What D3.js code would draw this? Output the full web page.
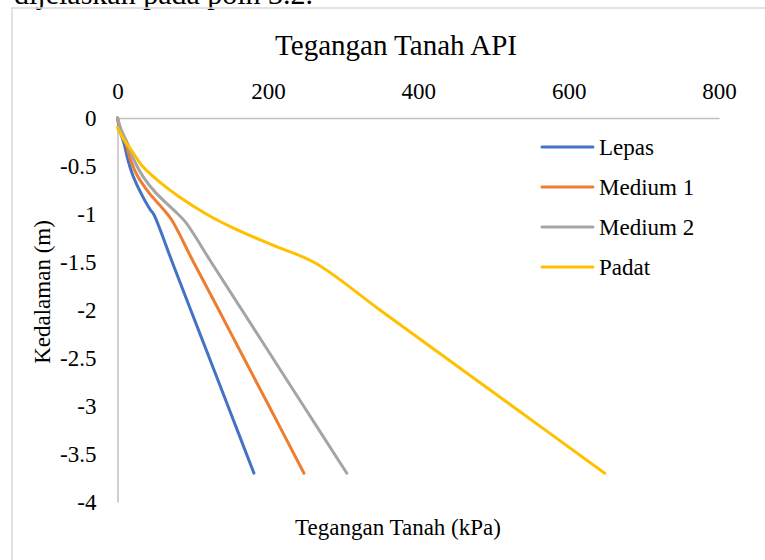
<!DOCTYPE html>
<html>
<head>
<meta charset="utf-8">
<script src="https://cdn.jsdelivr.net/npm/d3@7/dist/d3.min.js"></script>
<style>
  html, body { margin: 0; padding: 0; background: #fff; }
  svg { display: block; }
  text { font-family: "Liberation Serif", "Times New Roman", serif; fill: #000; }
</style>
</head>
<body>
<svg id="chart" width="765" height="560"></svg>
<script>
// Soil stress profiles (API) — stress in kPa against depth in m
const seriesNames = ["Lepas", "Medium 1", "Medium 2", "Padat"];
const seriesColors = ["#4472C4", "#ED7D31", "#A5A5A5", "#FFC000"];

const lepasDepth  = [0, -0.125, -0.26, -0.44, -0.61, -0.78, -0.96, -1.0, -1.5, -2.0, -2.5, -3.0, -3.7];
const lepasStress = [0, 3, 8.5, 14, 21, 31, 44, 48, 72.7, 97.4, 122.2, 146.9, 181.5];

const medium1Depth  = [0, -0.125, -0.26, -0.44, -0.61, -0.78, -0.96, -1.06, -1.5, -2.0, -2.5, -3.0, -3.7];
const medium1Stress = [0, 4, 11, 17.5, 27, 42, 62, 72, 101, 134.7, 168, 201.5, 248];

const medium2Depth  = [0, -0.125, -0.26, -0.44, -0.61, -0.78, -0.96, -1.08, -1.5, -2.0, -2.5, -3.0, -3.7];
const medium2Stress = [0, 5, 13, 22, 34, 51, 75, 90, 124.5, 165.5, 206.5, 247.5, 305];

const padatDepth  = [-0.1, -0.22, -0.33, -0.5, -0.66, -0.82, -1.0, -1.15, -1.32, -1.51, -2.0, -2.5, -3.0, -3.7];
const padatStress = [0, 8, 18, 33, 55, 82, 118, 155, 205, 263, 349, 437, 525, 648];

const xTicks = [0, 200, 400, 600, 800];
const yTicks = [0, -0.5, -1, -1.5, -2, -2.5, -3, -3.5, -4];

const chartTitle = "Tegangan Tanah API";
const xTitle = "Tegangan Tanah (kPa)";
const yTitle = "Kedalaman (m)";
const paragraphLine = "dijelaskan pada poin 3.2.";

const series = [
  { name: seriesNames[0], color: seriesColors[0], depth: lepasDepth,   stress: lepasStress },
  { name: seriesNames[1], color: seriesColors[1], depth: medium1Depth, stress: medium1Stress },
  { name: seriesNames[2], color: seriesColors[2], depth: medium2Depth, stress: medium2Stress },
  { name: seriesNames[3], color: seriesColors[3], depth: padatDepth,   stress: padatStress }
];

const svg = d3.select("#chart");

// running text of the page above the figure
svg.append("text")
  .attr("x", 14).attr("y", 4)
  .style("font-size", "30px")
  .text(paragraphLine);

// chart frame
svg.append("path")
  .attr("d", "M12,560 L12,8 L800,8")
  .attr("fill", "none")
  .attr("stroke", "#d9d9d9")
  .attr("stroke-width", 1.5);

const x = d3.scaleLinear().domain([0, 800]).range([117.5, 719]);
const y = d3.scaleLinear().domain([-4, 0]).range([502, 118]);

// top value axis
const xAxis = svg.append("g")
  .attr("transform", `translate(0,${y(0)})`)
  .call(d3.axisTop(x).tickValues(xTicks).tickSize(0).tickSizeOuter(0).tickPadding(19).tickFormat(d => String(d)));
xAxis.attr("font-family", null);
xAxis.select(".domain").attr("stroke", "#bfbfbf").attr("stroke-width", 1.5);
xAxis.selectAll("text").style("font-size", "23px").attr("fill", "#000");

// left depth axis
const yAxis = svg.append("g")
  .attr("transform", `translate(${x(0)},0)`)
  .call(d3.axisLeft(y).tickValues(yTicks).tickSize(0).tickSizeOuter(0).tickPadding(21).tickFormat(d => String(d)));
yAxis.attr("font-family", null);
yAxis.select(".domain").attr("stroke", "#bfbfbf").attr("stroke-width", 1.5);
yAxis.selectAll("text").style("font-size", "23px").attr("fill", "#000");

// series lines (smoothed)
const line = d3.line()
  .x(d => x(d[0]))
  .y(d => y(d[1]))
  .curve(d3.curveCatmullRom.alpha(0.5));

svg.append("g").selectAll("path")
  .data(series)
  .join("path")
  .attr("d", s => line(s.stress.map((v, i) => [v, s.depth[i]])))
  .attr("fill", "none")
  .attr("stroke", s => s.color)
  .attr("stroke-width", 3)
  .attr("stroke-linecap", "round")
  .attr("stroke-linejoin", "round");

// titles
svg.append("text")
  .attr("x", 396).attr("y", 55)
  .attr("text-anchor", "middle")
  .style("font-size", "29px")
  .text(chartTitle);

svg.append("text")
  .attr("x", 398).attr("y", 535)
  .attr("text-anchor", "middle")
  .style("font-size", "23px")
  .text(xTitle);

svg.append("text")
  .attr("transform", "translate(50,292) rotate(-90)")
  .attr("text-anchor", "middle")
  .style("font-size", "23px")
  .text(yTitle);

// legend
const legendY = d3.scalePoint().domain(seriesNames).range([147, 267]);
const legend = svg.append("g").selectAll("g")
  .data(series)
  .join("g")
  .attr("transform", s => `translate(0,${legendY(s.name)})`);
legend.append("line")
  .attr("x1", 542).attr("x2", 593)
  .attr("stroke", s => s.color)
  .attr("stroke-width", 3)
  .attr("stroke-linecap", "round");
legend.append("text")
  .attr("x", 599).attr("y", 8)
  .style("font-size", "23px")
  .text(s => s.name);
</script>
</body>
</html>
